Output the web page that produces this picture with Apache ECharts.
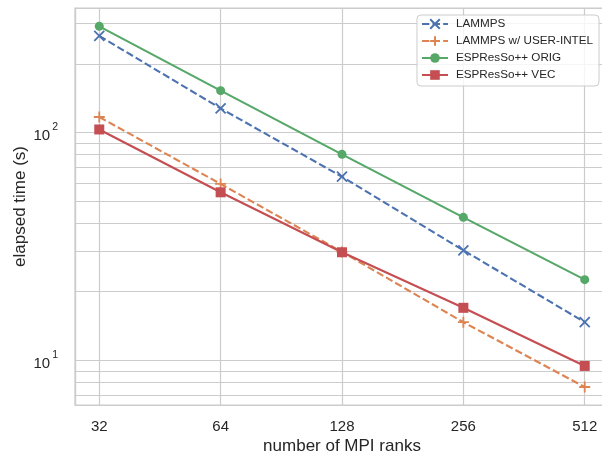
<!DOCTYPE html>
<html>
<head>
<meta charset="utf-8">
<script src="https://cdn.jsdelivr.net/npm/echarts@6/dist/echarts.min.js"></script>
<style>
html,body{margin:0;padding:0;background:#fff;}
#chart{width:602px;height:456px;}
</style>
</head>
<body>
<div id="chart"></div>
<script>
// ---- data ----
const ranks = [32, 64, 128, 256, 512];
const lammps = [265, 127.4, 63.9, 30.4, 14.7];
const lammpsUserIntel = [116.8, 59.4, 29.9, 14.7, 7.64];
const espressoOrig = [292, 152.4, 80.1, 42.4, 22.6];
const espressoVec = [103, 54.6, 29.8, 17.0, 9.45];
const seriesNames = ['LAMMPS', 'LAMMPS w/ USER-INTEL', 'ESPResSo++ ORIG', 'ESPResSo++ VEC'];
const xTickLabels = ['32', '64', '128', '256', '512'];
const yMinorGrid = [7, 8, 9, 20, 30, 40, 50, 60, 70, 80, 90, 200, 300];

// ---- styles ----
const FONT = "'Liberation Sans', Arial, sans-serif";
const TXT = '#262626';
const GRID = '#cccccc';
const colors = ['#4C72B0', '#DD8452', '#55A868', '#C44E52'];
const xPath = 'path://M0,0L10,10M0,10L10,0';
const plusPath = 'path://M5,0L5,10M0,5L10,5';

function pairs(ys) { return ranks.map((r, i) => [r, ys[i]]); }

const chart = echarts.init(document.getElementById('chart'), null, {renderer: 'canvas'});

const lineW = 2.1;
const option = {
  animation: false,
  backgroundColor: '#ffffff',
  textStyle: {fontFamily: FONT},
  grid: {
    left: 75, top: 8, width: 534, height: 397,
    containLabel: false, outerBoundsMode: 'none',
    show: true, borderColor: GRID, borderWidth: 1.2, backgroundColor: '#ffffff'
  },
  legend: {
    data: seriesNames,
    orient: 'vertical',
    right: 3, top: 15,
    itemWidth: 26, itemHeight: 12, itemGap: 5,
    padding: [3, 6, 5, 4],
    backgroundColor: 'rgba(255,255,255,0.8)',
    borderColor: GRID, borderWidth: 1, borderRadius: 4,
    textStyle: {fontFamily: FONT, fontSize: 11.7, color: TXT, lineHeight: 12, padding: [0, 0, 0, 3]}
  },
  xAxis: {
    type: 'log', logBase: 2,
    min: Math.pow(2, 4.8), max: Math.pow(2, 9.2),
    name: 'number of MPI ranks', nameLocation: 'middle', nameGap: 33,
    nameMoveOverlap: false,
    nameTextStyle: {fontFamily: FONT, fontSize: 17, color: TXT},
    axisLine: {show: true, lineStyle: {color: GRID, width: 1.2}},
    axisTick: {show: false},
    axisLabel: {
      show: true, margin: 14, fontFamily: FONT, fontSize: 15, color: TXT,
      showMinLabel: false, showMaxLabel: false,
      formatter: function (v) {
        const i = ranks.findIndex(r => Math.abs(r - v) < 1e-6);
        return i >= 0 ? xTickLabels[i] : '';
      }
    },
    splitLine: {show: true, lineStyle: {color: GRID, width: 1.2}}
  },
  yAxis: {
    type: 'log', logBase: 10,
    min: 6.37, max: 351.3,
    name: 'elapsed time (s)', nameLocation: 'middle', nameGap: 46, nameRotate: 90,
    nameMoveOverlap: false,
    nameTextStyle: {fontFamily: FONT, fontSize: 17, color: TXT},
    axisLine: {show: true, lineStyle: {color: GRID, width: 1.2}},
    axisTick: {show: false},
    axisLabel: {
      show: true, margin: 17,
      showMinLabel: false, showMaxLabel: false,
      formatter: function (v) {
        const e = Math.round(Math.log10(v));
        if (Math.abs(v - Math.pow(10, e)) > 1e-6 * v) return '';
        return '{b|10}{s|' + e + '}';
      },
      rich: {
        b: {fontFamily: FONT, fontSize: 15, color: TXT, lineHeight: 22, verticalAlign: 'bottom'},
        s: {fontFamily: FONT, fontSize: 10.5, color: TXT, lineHeight: 22, verticalAlign: 'top', padding: [0, 0, 0, 2]}
      }
    },
    splitLine: {show: true, lineStyle: {color: GRID, width: 1.2}}
  },
  series: [
    {
      name: '_minorgrid', type: 'line', data: [], silent: true,
      markLine: {
        silent: true, z: 1, symbol: ['none', 'none'], animation: false,
        label: {show: false},
        lineStyle: {color: GRID, width: 1.2, type: 'solid'},
        emphasis: {disabled: true},
        data: yMinorGrid.map(v => ({yAxis: v}))
      }
    },
    {
      name: seriesNames[0], type: 'line', data: pairs(lammps),
      color: colors[0], symbol: xPath, symbolSize: 10,
      lineStyle: {color: colors[0], width: lineW, type: [7.4, 3.2]},
      itemStyle: {color: colors[0], borderColor: colors[0], borderWidth: 1.8}
    },
    {
      name: seriesNames[1], type: 'line', data: pairs(lammpsUserIntel),
      color: colors[1], symbol: plusPath, symbolSize: 11,
      lineStyle: {color: colors[1], width: lineW, type: [7.4, 3.2]},
      itemStyle: {color: colors[1], borderColor: colors[1], borderWidth: 1.8}
    },
    {
      name: seriesNames[2], type: 'line', data: pairs(espressoOrig),
      color: colors[2], symbol: 'circle', symbolSize: 9,
      lineStyle: {color: colors[2], width: lineW},
      itemStyle: {color: colors[2], borderWidth: 0}
    },
    {
      name: seriesNames[3], type: 'line', data: pairs(espressoVec),
      color: colors[3], symbol: 'rect', symbolSize: 10,
      lineStyle: {color: colors[3], width: lineW},
      itemStyle: {color: colors[3], borderWidth: 0}
    }
  ]
};
chart.setOption(option);
</script>
</body>
</html>
